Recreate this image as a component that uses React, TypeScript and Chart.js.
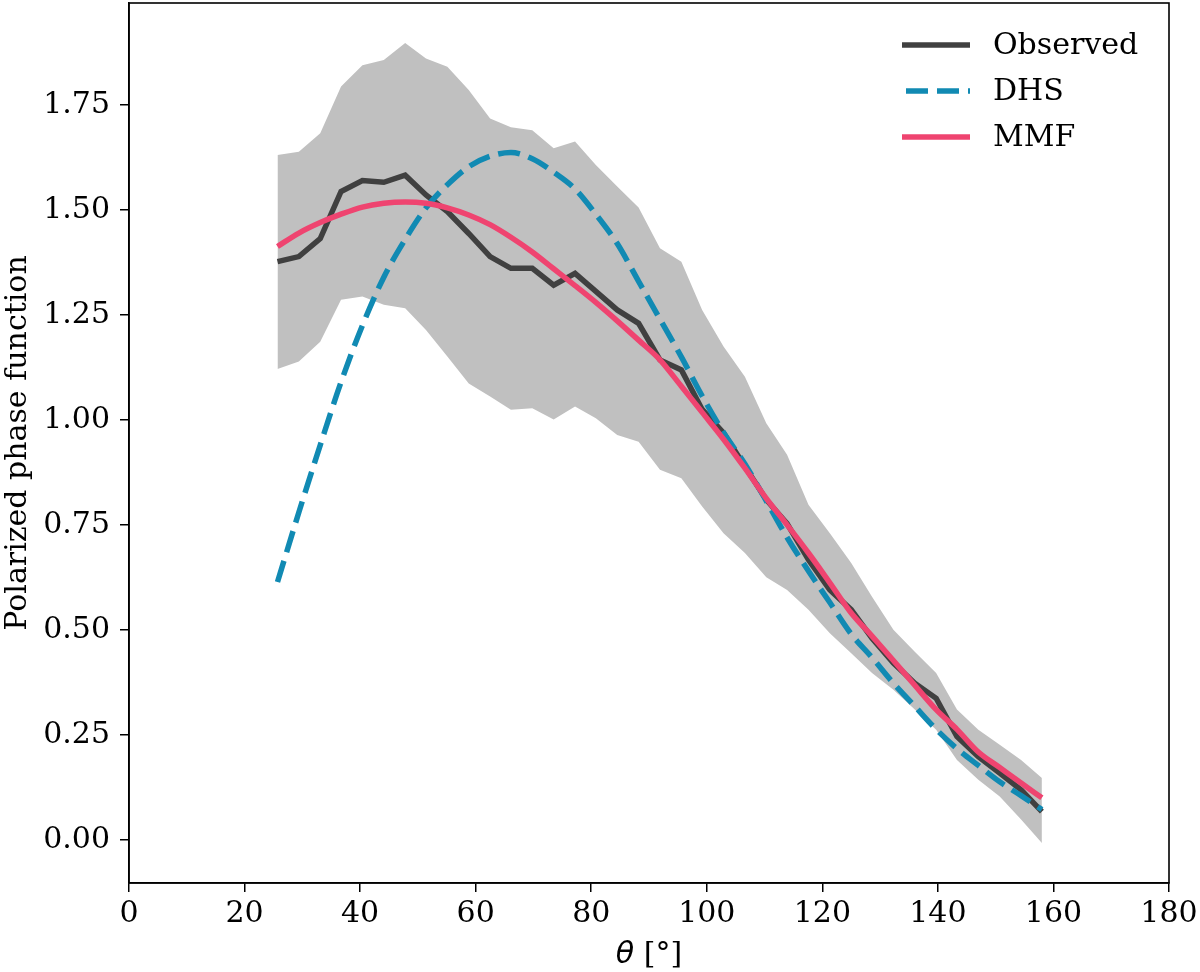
import { useEffect, useRef } from 'react'
import { Chart, registerables } from 'chart.js'

Chart.register(...registerables);

// scattering angle samples (deg)
const theta = [25.7, 29.4, 33.1, 36.7, 40.4, 44.1, 47.8, 51.4, 55.1, 58.8, 62.5, 66.1, 69.8, 73.5, 77.2, 80.8, 84.5, 88.2, 91.9, 95.6, 99.2, 102.9, 106.6, 110.3, 113.9, 117.6, 121.3, 125.0, 128.6, 132.3, 136.0, 139.7, 143.3, 147.0, 150.7, 154.4, 158.0];

const observed = [1.377, 1.389, 1.432, 1.544, 1.570, 1.566, 1.583, 1.536, 1.496, 1.444, 1.389, 1.361, 1.361, 1.321, 1.349, 1.306, 1.262, 1.230, 1.143, 1.119, 1.025, 0.969, 0.889, 0.810, 0.753, 0.667, 0.595, 0.548, 0.480, 0.421, 0.373, 0.337, 0.246, 0.198, 0.159, 0.119, 0.067];
const bandUpper = [1.631, 1.639, 1.683, 1.794, 1.845, 1.857, 1.898, 1.861, 1.841, 1.786, 1.718, 1.697, 1.690, 1.647, 1.663, 1.607, 1.556, 1.506, 1.409, 1.377, 1.262, 1.175, 1.103, 0.992, 0.917, 0.798, 0.730, 0.659, 0.579, 0.500, 0.448, 0.397, 0.310, 0.262, 0.226, 0.190, 0.147];
const bandLower = [1.121, 1.139, 1.186, 1.286, 1.294, 1.274, 1.266, 1.214, 1.151, 1.087, 1.056, 1.024, 1.028, 1.001, 1.032, 1.004, 0.964, 0.948, 0.881, 0.861, 0.794, 0.730, 0.683, 0.625, 0.595, 0.548, 0.492, 0.444, 0.397, 0.357, 0.310, 0.262, 0.190, 0.143, 0.103, 0.048, -0.008];
const dhs = [0.614, 0.780, 0.940, 1.090, 1.225, 1.340, 1.430, 1.505, 1.560, 1.603, 1.628, 1.637, 1.622, 1.590, 1.550, 1.490, 1.420, 1.330, 1.240, 1.150, 1.057, 0.970, 0.895, 0.807, 0.720, 0.640, 0.565, 0.490, 0.434, 0.373, 0.318, 0.263, 0.217, 0.177, 0.138, 0.105, 0.072];
const mmf = [1.413, 1.445, 1.470, 1.490, 1.507, 1.516, 1.519, 1.516, 1.505, 1.488, 1.465, 1.435, 1.400, 1.360, 1.320, 1.280, 1.236, 1.190, 1.143, 1.080, 1.018, 0.954, 0.885, 0.813, 0.750, 0.683, 0.612, 0.540, 0.485, 0.427, 0.368, 0.310, 0.263, 0.209, 0.172, 0.135, 0.100];

const xTicks = [0, 20, 40, 60, 80, 100, 120, 140, 160, 180];
const yTicks = [0, 0.25, 0.5, 0.75, 1.0, 1.25, 1.5, 1.75];
const legendOrder = ['Observed', 'DHS', 'MMF'];

const SERIF = "'DejaVu Serif', serif";
const FONT_SIZE = 30;

const pts = (ys: number[]) => theta.map((t, i) => ({ x: t, y: ys[i] }));

// full box around the axes, like matplotlib spines
const framePlugin = {
  id: 'frame',
  afterDraw(chart: Chart) {
    const { ctx, chartArea: a } = chart;
    ctx.save();
    ctx.strokeStyle = '#000';
    ctx.lineWidth = 1.6;
    ctx.strokeRect(a.left, a.top, a.right - a.left, a.bottom - a.top);
    ctx.restore();
  },
};

// legend in the upper right corner, no frame
const legendPlugin = {
  id: 'cornerLegend',
  afterDraw(chart: Chart) {
    const { ctx, chartArea: a } = chart;
    const items = legendOrder.map(l => chart.data.datasets.find((d: any) => d.label === l) as any);
    ctx.save();
    items.forEach((d: any, i: number) => {
      const y = a.top + 42 + i * 46;
      const x0 = a.right - 267;
      ctx.beginPath();
      ctx.strokeStyle = d.borderColor;
      ctx.lineWidth = d.borderWidth;
      ctx.setLineDash(d.borderDash || []);
      ctx.moveTo(x0 + (d.borderDash ? 4 : 0), y);
      ctx.lineTo(x0 + 68, y);
      ctx.stroke();
      ctx.setLineDash([]);
      ctx.fillStyle = '#000';
      ctx.font = `${FONT_SIZE}px ${SERIF}`;
      ctx.textBaseline = 'middle';
      ctx.textAlign = 'left';
      ctx.fillText(d.label, a.right - 176, y + 1);
    });
    ctx.restore();
  },
};

// x title with an italic theta
const xTitlePlugin = {
  id: 'xTitle',
  afterDraw(chart: Chart) {
    const { ctx, chartArea: a } = chart;
    ctx.save();
    ctx.fillStyle = '#000';
    ctx.textBaseline = 'middle';
    ctx.textAlign = 'left';
    const thetaFont = `italic ${FONT_SIZE}px 'DejaVu Sans', sans-serif`;
    const restFont = `${FONT_SIZE}px ${SERIF}`;
    ctx.font = thetaFont;
    const w1 = ctx.measureText('θ').width;
    ctx.font = restFont;
    const rest = ' [°]';
    const w2 = ctx.measureText(rest).width;
    const x = (a.left + a.right) / 2 - (w1 + w2) / 2;
    const y = 955;
    ctx.font = thetaFont;
    ctx.fillText('θ', x, y);
    ctx.font = restFont;
    ctx.fillText(rest, x + w1, y);
    ctx.restore();
  },
};

export default function App() {
  const canvasRef = useRef<HTMLCanvasElement>(null);
  const chartRef = useRef<Chart | null>(null);

  useEffect(() => {
    document.body.style.margin = '0';
    if (!canvasRef.current) return;
    chartRef.current?.destroy();
    chartRef.current = new Chart(canvasRef.current, {
      type: 'line',
      data: {
        datasets: [
          {
            label: 'MMF',
            data: pts(mmf),
            borderColor: '#ef4470',
            borderWidth: 5.5,
            pointRadius: 0,
            cubicInterpolationMode: 'monotone',
            fill: false,
            order: 0,
          },
          {
            label: 'DHS',
            data: pts(dhs),
            borderColor: '#118ab3',
            borderWidth: 5.5,
            borderDash: [22, 9],
            pointRadius: 0,
            cubicInterpolationMode: 'monotone',
            fill: false,
            order: 1,
          },
          {
            label: 'Observed',
            data: pts(observed),
            borderColor: '#404040',
            borderWidth: 5.5,
            pointRadius: 0,
            tension: 0,
            fill: false,
            order: 2,
          },
          {
            label: '',
            data: pts(bandLower),
            borderWidth: 0,
            borderColor: 'rgba(0,0,0,0)',
            pointRadius: 0,
            tension: 0,
            fill: false,
            order: 3,
          },
          {
            label: '',
            data: pts(bandUpper),
            borderWidth: 0,
            borderColor: 'rgba(0,0,0,0)',
            backgroundColor: '#c0c0c0',
            pointRadius: 0,
            tension: 0,
            fill: '-1',
            order: 4,
          },
        ] as any,
      },
      options: {
        animation: false,
        responsive: true,
        maintainAspectRatio: false,
        layout: { padding: { left: 0, right: 31, top: 3, bottom: 0 } },
        plugins: {
          legend: { display: false },
          tooltip: { enabled: false },
        },
        scales: {
          x: {
            type: 'linear',
            min: 0,
            max: 180,
            afterBuildTicks: (s: any) => { s.ticks = xTicks.map(v => ({ value: v })); },
            afterFit: (s: any) => { s.height = 89; s.paddingLeft = 0; s.paddingRight = 0; },
            ticks: {
              color: '#000',
              font: { family: SERIF, size: FONT_SIZE },
              padding: 4,
              maxRotation: 0,
              autoSkip: false,
            },
            grid: { drawOnChartArea: false, drawTicks: true, tickLength: 9, color: '#000', lineWidth: 1.5 },
            border: { display: true, color: '#000', width: 1.6 },
          },
          y: {
            type: 'linear',
            min: -0.103,
            max: 1.993,
            afterBuildTicks: (s: any) => { s.ticks = yTicks.map(v => ({ value: v })); },
            afterFit: (s: any) => { s.width = 129; s.paddingTop = 0; s.paddingBottom = 0; },
            ticks: {
              color: '#000',
              font: { family: SERIF, size: FONT_SIZE },
              padding: 10,
              autoSkip: false,
              callback: (v: any) => Number(v).toFixed(2),
            },
            title: {
              display: true,
              text: 'Polarized phase function',
              color: '#000',
              font: { family: SERIF, size: FONT_SIZE },
              padding: 0,
            },
            grid: { drawOnChartArea: false, drawTicks: true, tickLength: 9, color: '#000', lineWidth: 1.5 },
            border: { display: true, color: '#000', width: 1.6 },
          },
        },
      },
      plugins: [framePlugin, legendPlugin, xTitlePlugin],
    });
    return () => {
      chartRef.current?.destroy();
      chartRef.current = null;
    };
  }, []);

  return (
    <div style={{ width: 1200, height: 972, position: 'relative' }}>
      <canvas ref={canvasRef} />
    </div>
  );
}
